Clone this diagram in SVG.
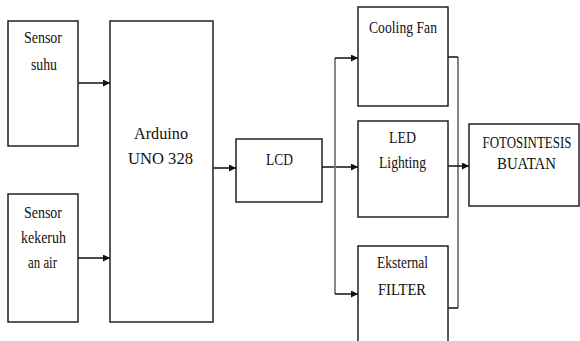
<svg xmlns="http://www.w3.org/2000/svg" width="580" height="341" viewBox="0 0 580 341">
<defs>
<style>
.box{fill:#fff;stroke:#222;stroke-width:1.5}
text{font-family:'Liberation Serif','Times New Roman','DejaVu Serif',serif;font-size:17.5px;fill:#111;text-anchor:middle}
.c{fill:none;stroke:#111;stroke-width:1.5}
.g{fill:none;stroke:#7a7a7a;stroke-width:1.8}
</style>
<marker id="ah" viewBox="0 0 10 10" refX="10" refY="5" markerWidth="8" markerHeight="7" markerUnits="userSpaceOnUse" orient="auto">
<path d="M0,0 L10,5 L0,10 z" fill="#111"/>
</marker>
</defs>
<rect width="580" height="341" fill="#fff"/>
<g id="connectors">
<line class="c" x1="78" y1="83" x2="110" y2="83" marker-end="url(#ah)"/>
<line class="c" x1="78" y1="258" x2="110" y2="258" marker-end="url(#ah)"/>
<line class="c" x1="213" y1="168" x2="236" y2="168" marker-end="url(#ah)"/>
<line class="c" x1="322" y1="167" x2="358" y2="167" marker-end="url(#ah)"/>
<line class="g" x1="335" y1="58" x2="335" y2="294"/>
<line class="c" x1="335" y1="58" x2="358" y2="58" marker-end="url(#ah)"/>
<line class="c" x1="335" y1="294" x2="358" y2="294" marker-end="url(#ah)"/>
<line class="g" x1="458" y1="57" x2="458" y2="308"/>
<line class="c" x1="448" y1="57" x2="458" y2="57"/>
<line class="c" x1="448" y1="308" x2="458" y2="308"/>
<line class="c" x1="448" y1="166" x2="469" y2="166" marker-end="url(#ah)"/>
</g>
<g id="sensor-suhu">
<rect class="box" x="8" y="21" width="70" height="125"/>
<text x="43" y="43" textLength="38" lengthAdjust="spacingAndGlyphs">Sensor</text>
<text x="44" y="70" textLength="26" lengthAdjust="spacingAndGlyphs">suhu</text>
</g>
<g id="sensor-kekeruhan">
<rect class="box" x="8" y="194" width="70" height="128"/>
<text x="43" y="218" textLength="38" lengthAdjust="spacingAndGlyphs">Sensor</text>
<text x="43.5" y="243" textLength="45" lengthAdjust="spacingAndGlyphs">kekeruh</text>
<text x="42.5" y="268" textLength="29" lengthAdjust="spacingAndGlyphs">an air</text>
</g>
<g id="arduino">
<rect class="box" x="110" y="21" width="103" height="301"/>
<text x="161" y="139" textLength="54" lengthAdjust="spacingAndGlyphs">Arduino</text>
<text x="160.5" y="164" textLength="65" lengthAdjust="spacingAndGlyphs">UNO 328</text>
</g>
<g id="lcd">
<rect class="box" x="236" y="139" width="86" height="63"/>
<text x="279.5" y="165" textLength="27" lengthAdjust="spacingAndGlyphs">LCD</text>
</g>
<g id="cooling-fan">
<rect class="box" x="358" y="7" width="90" height="99"/>
<text x="403" y="33" textLength="68" lengthAdjust="spacingAndGlyphs">Cooling Fan</text>
</g>
<g id="led-lighting">
<rect class="box" x="358" y="121" width="90" height="96"/>
<text x="402.5" y="143" textLength="27" lengthAdjust="spacingAndGlyphs">LED</text>
<text x="402.5" y="168" textLength="47" lengthAdjust="spacingAndGlyphs">Lighting</text>
</g>
<g id="eksternal-filter">
<rect class="box" x="358" y="246" width="90" height="110"/>
<text x="402.5" y="268" textLength="51" lengthAdjust="spacingAndGlyphs">Eksternal</text>
<text x="402" y="295" textLength="48" lengthAdjust="spacingAndGlyphs">FILTER</text>
</g>
<g id="fotosintesis">
<rect class="box" x="469" y="124" width="110" height="82"/>
<text transform="translate(527,148) scale(0.74,1)" x="0" y="0">FOTOSINTESIS</text>
<text x="526.5" y="169" textLength="59" lengthAdjust="spacingAndGlyphs">BUATAN</text>
</g>
</svg>
